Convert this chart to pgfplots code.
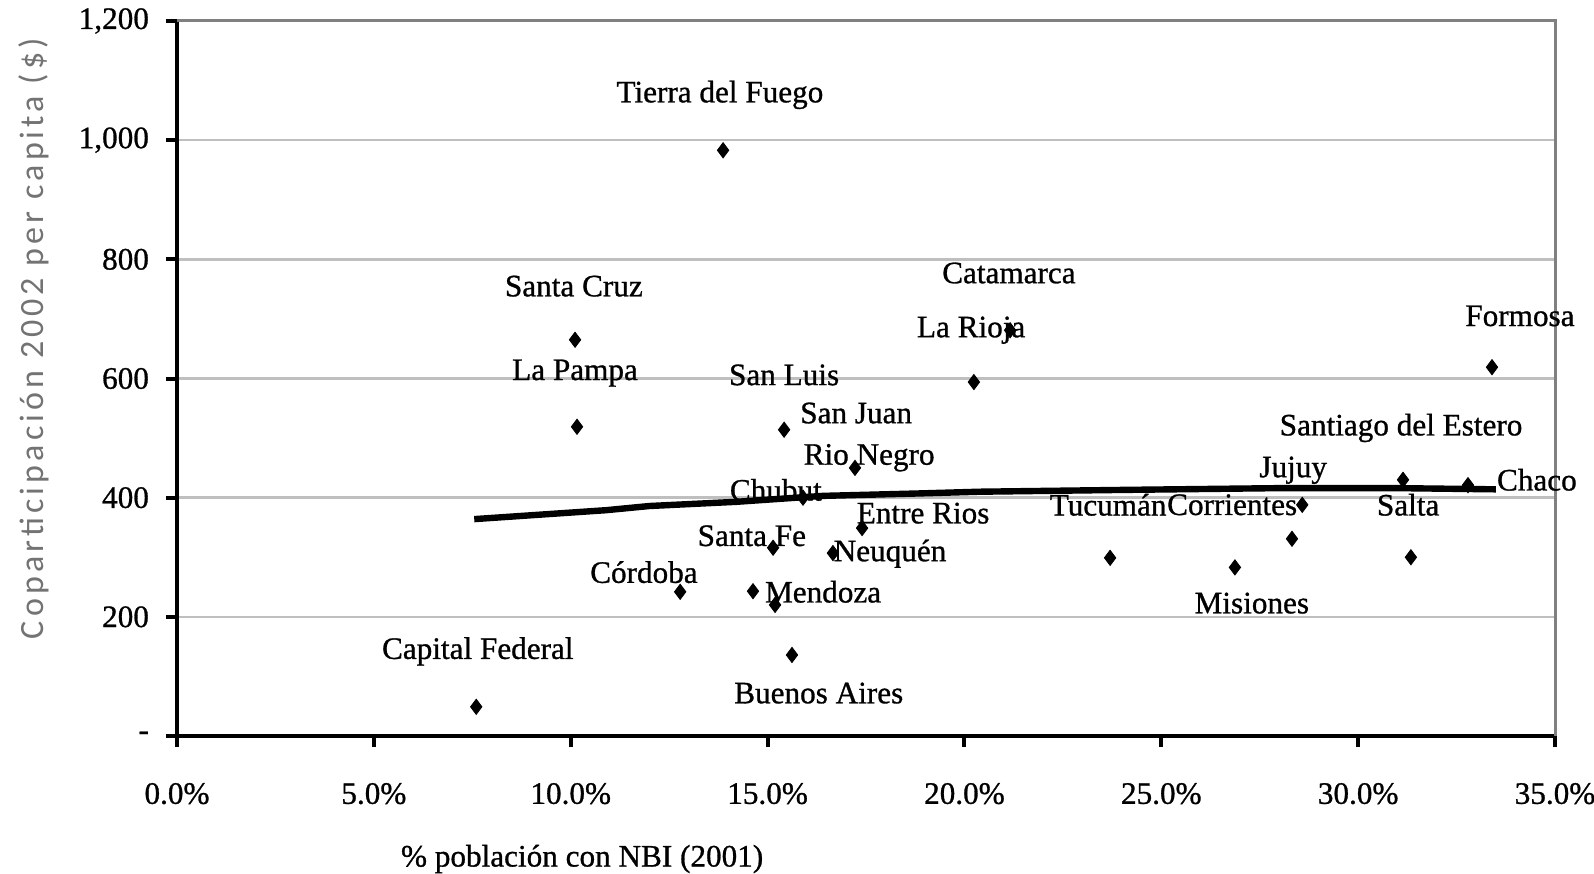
\documentclass[border=0pt]{standalone}
\usepackage{fontspec}
\setmainfont[FakeBold=0.9]{Liberation Serif}
\newfontfamily\ylabfont[LetterSpace=12]{Carlito}
\usepackage{pgfplots}
\pgfplotsset{compat=1.18}
\newcommand{\lbl}{\fontsize{15.6}{18}\selectfont}
\begin{document}
\begin{tikzpicture}
\begin{axis}[
  name=ax,
  scale only axis,
  width=689pt, height=357.5pt,
  xmin=0, xmax=35, ymin=0, ymax=1200,
  axis x line*=bottom, axis y line*=left,
  axis line style={line width=2pt,-},
  xtick={0,5,10,15,20,25,30,35},
  xticklabels={0.0\%,5.0\%,10.0\%,15.0\%,20.0\%,25.0\%,30.0\%,35.0\%},
  ytick={0,200,400,600,800,1000,1200},
  yticklabels={{-\hspace{13pt}},200,400,600,800,{1,000},{1,200}},
  tick style={black,line width=2pt},
  major tick length=5.5pt,
  tick align=outside,
  ticklabel style={font=\lbl},
  xticklabel style={yshift=-14.5pt},
  yticklabel style={xshift=-5pt},
  ymajorgrids,
  grid style={gray!50,line width=1.3pt},
  clip=false,
  xlabel={\% población con NBI (2001)},
  xlabel style={font=\lbl, at={(axis description cs:0.294,0)}, anchor=center, yshift=-61.5pt},
  ylabel={\ylabfont Coparticipación 2002 per capita (\$)},
  ylabel style={font=\fontsize{17}{19}\selectfont, text=black!55, at={(axis description cs:-0.1038,0.556)}, anchor=center},
]
\draw[gray,line width=1.5pt] (rel axis cs:0,1) -- (rel axis cs:1,1) -- (rel axis cs:1,0);
\addplot[black, line width=3.2pt] coordinates {
(7.55,364) (10.9,379) (12.0,386) (14.2,393) (16.4,403) (18.8,407) (20.4,410)
(24.0,413) (28.0,416) (31.0,416) (33.5,414)};
\addplot[only marks, mark=diamond*, mark size=3.8pt, black] coordinates {
(7.60,49) (10.11,665) (10.16,519) (12.78,242) (13.87,983) (14.63,243)
(15.14,316) (15.19,220) (15.42,514) (15.62,136) (15.90,400) (16.66,307)
(17.22,450) (17.40,349) (20.24,594) (21.16,681) (23.70,299) (26.87,283)
(28.32,331) (28.58,388) (31.14,430) (31.34,300) (32.79,421) (33.40,619)
};
\begin{scope}[every node/.style={font=\lbl, inner sep=0pt}]
\node at (axis cs:13.79,1076) {Tierra del Fuego};
\node at (axis cs:10.08,755) {Santa Cruz};
\node at (axis cs:10.11,609) {La Pampa};
\node at (axis cs:15.42,606) {San Luis};
\node at (axis cs:17.25,542) {San Juan};
\node at (axis cs:21.13,777) {Catamarca};
\node at (axis cs:20.17,681) {La Rioja};
\node at (axis cs:34.11,705) {Formosa};
\node at (axis cs:17.58,467) {Rio Negro};
\node at (axis cs:15.21,413) {Chubut};
\node at (axis cs:18.95,374) {Entre Rios};
\node at (axis cs:14.60,336) {Santa Fe};
\node at (axis cs:18.11,306) {Neuquén};
\node at (axis cs:11.86,275) {Córdoba};
\node at (axis cs:16.41,242) {Mendoza};
\node at (axis cs:7.64,142) {Capital Federal};
\node at (axis cs:16.30,72) {Buenos Aires};
\node at (axis cs:23.65,388) {Tucumán};
\node at (axis cs:26.80,388) {Corrientes};
\node at (axis cs:28.35,446) {Jujuy};
\node at (axis cs:31.09,517) {Santiago del Estero};
\node at (axis cs:34.54,430) {Chaco};
\node at (axis cs:31.27,388) {Salta};
\node at (axis cs:27.30,223) {Misiones};
\end{scope}
\end{axis}
\pgfresetboundingbox
\path ([xshift=-88.5pt,yshift=-68.5pt]ax.south west) rectangle ([xshift=19.5pt,yshift=10.5pt]ax.north east);
\end{tikzpicture}
\end{document}
